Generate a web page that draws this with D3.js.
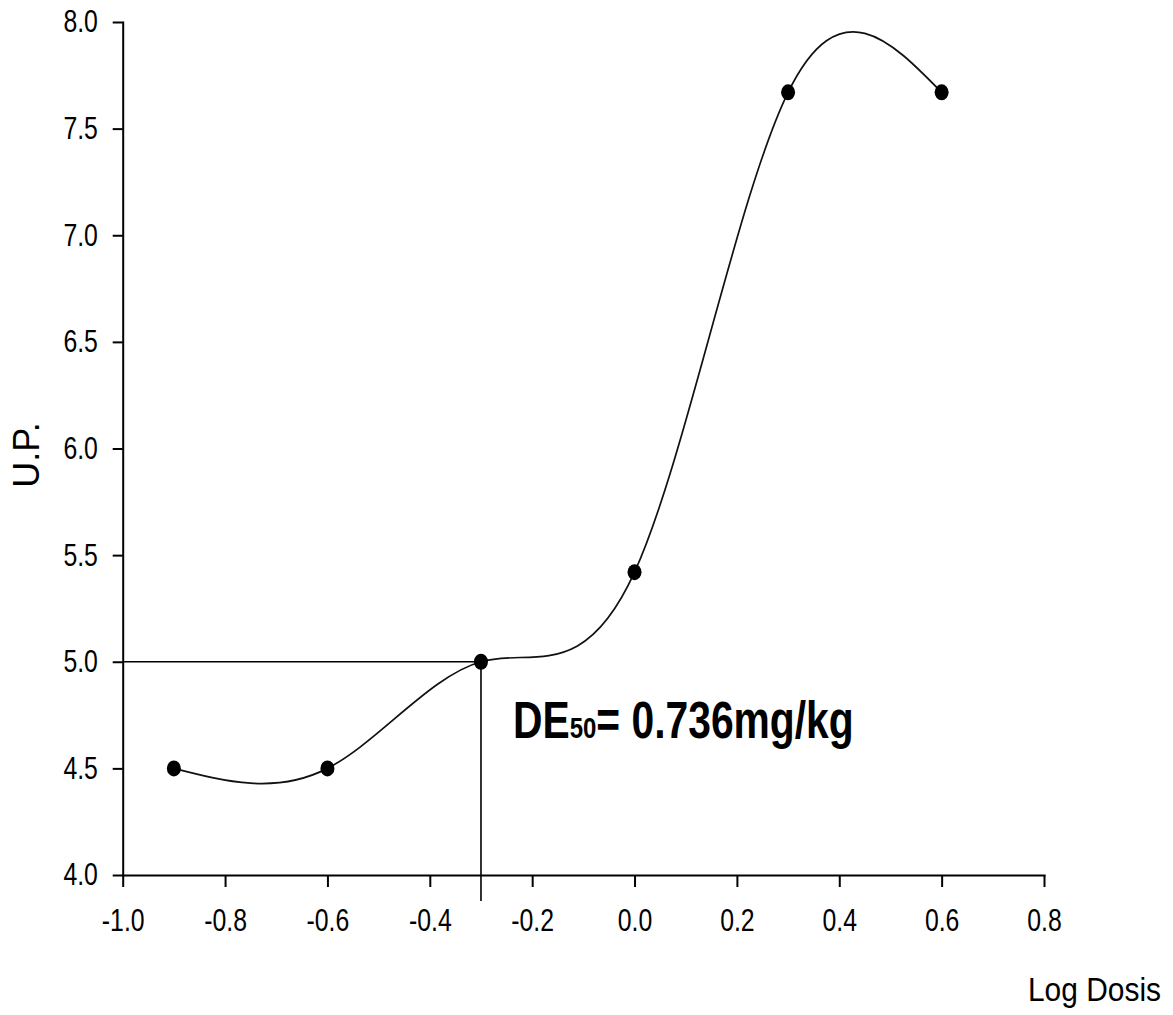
<!DOCTYPE html>
<html>
<head>
<meta charset="utf-8">
<script src="https://cdn.jsdelivr.net/npm/d3@7"></script>
<style>
  body { margin: 0; background: #fff; }
  svg { display: block; }
  .axis path, .axis line { stroke: #000; stroke-width: 2; }
  .axis text { font-family: "Liberation Sans", Arial, sans-serif; font-size: 31px; fill: #000; }
</style>
</head>
<body>
<svg id="chart" width="1173" height="1015"></svg>
<script>
// data
const logDose = [-0.9, -0.6, -0.3, 0.0, 0.3, 0.6];
const probit = [4.5, 4.5, 5.0, 5.42, 7.67, 7.67];
const xTicks = [-1.0, -0.8, -0.6, -0.4, -0.2, 0.0, 0.2, 0.4, 0.6, 0.8];
const yTicks = [4.0, 4.5, 5.0, 5.5, 6.0, 6.5, 7.0, 7.5, 8.0];
const de50 = { x: -0.3, y: 5.0 };

const svg = d3.select('#chart');

// plot box
const dims = { left: 122.7, right: 1044, top: 22, bottom: 875 };
// the original lettering is condensed, squeeze it horizontally
const squeeze = 0.8;

const x = d3.scaleLinear().domain([-1.0, 0.8]).range([dims.left, dims.right]);
const y = d3.scaleLinear().domain([4.0, 8.0]).range([dims.bottom, dims.top]);

const fmt = function(d) { return d.toFixed(1); };

// y axis
const yAxis = d3.axisLeft(y)
  .tickValues(yTicks)
  .tickFormat(fmt)
  .tickSizeInner(10)
  .tickSizeOuter(0)
  .tickPadding(21);

svg.append('g')
  .attr('class', 'axis axis-y')
  .attr('transform', 'translate(' + dims.left + ',0)')
  .call(yAxis)
  .selectAll('.tick text')
  .attr('transform', 'scale(' + squeeze + ',1)');

// x axis
const xAxis = d3.axisBottom(x)
  .tickValues(xTicks)
  .tickFormat(fmt)
  .tickSizeInner(12)
  .tickSizeOuter(0)
  .tickPadding(22);

svg.append('g')
  .attr('class', 'axis axis-x')
  .attr('transform', 'translate(0,' + dims.bottom + ')')
  .call(xAxis)
  .selectAll('.tick text')
  .attr('transform', 'scale(' + squeeze + ',1)');

svg.selectAll('.axis .domain').attr('stroke-linecap', 'square');

// DE50 guide lines
svg.append('line')
  .attr('x1', x(-1.0)).attr('x2', x(de50.x))
  .attr('y1', y(de50.y)).attr('y2', y(de50.y))
  .attr('stroke', '#000').attr('stroke-width', 1.6);

svg.append('line')
  .attr('x1', x(de50.x)).attr('x2', x(de50.x))
  .attr('y1', y(de50.y)).attr('y2', y(4.0) + 26)
  .attr('stroke', '#000').attr('stroke-width', 1.6);

// smooth curve through the points
const pts = logDose.map(function(d, i) { return [d, probit[i]]; });
const line = d3.line()
  .x(function(d) { return x(d[0]); })
  .y(function(d) { return y(d[1]); })
  .curve(d3.curveNatural);

svg.append('path')
  .datum(pts)
  .attr('d', line)
  .attr('fill', 'none')
  .attr('stroke', '#111')
  .attr('stroke-width', 1.7);

// markers
svg.append('g')
  .selectAll('ellipse')
  .data(pts)
  .enter()
  .append('ellipse')
  .attr('cx', function(d) { return x(d[0]); })
  .attr('cy', function(d) { return y(d[1]); })
  .attr('rx', 7)
  .attr('ry', 8)
  .attr('fill', '#000');

// axis titles
svg.append('text')
  .attr('transform', 'translate(39,455) rotate(-90)')
  .attr('text-anchor', 'middle')
  .style('font-family', '"Liberation Sans", Arial, sans-serif')
  .style('font-size', '36px')
  .text('U.P.');

svg.append('text')
  .attr('transform', 'translate(1161,1001) scale(0.88,1)')
  .attr('text-anchor', 'end')
  .style('font-family', '"Liberation Sans", Arial, sans-serif')
  .style('font-size', '34px')
  .text('Log Dosis');

// annotation
const note = svg.append('text')
  .attr('transform', 'translate(513,738) scale(' + squeeze + ',1)')
  .style('font-family', '"Liberation Sans", Arial, sans-serif')
  .style('font-weight', 'bold')
  .style('font-size', '51px');
note.append('tspan').text('DE');
note.append('tspan').style('font-size', '30px').text('50');
note.append('tspan').text('= 0.736mg/kg');
</script>
</body>
</html>
